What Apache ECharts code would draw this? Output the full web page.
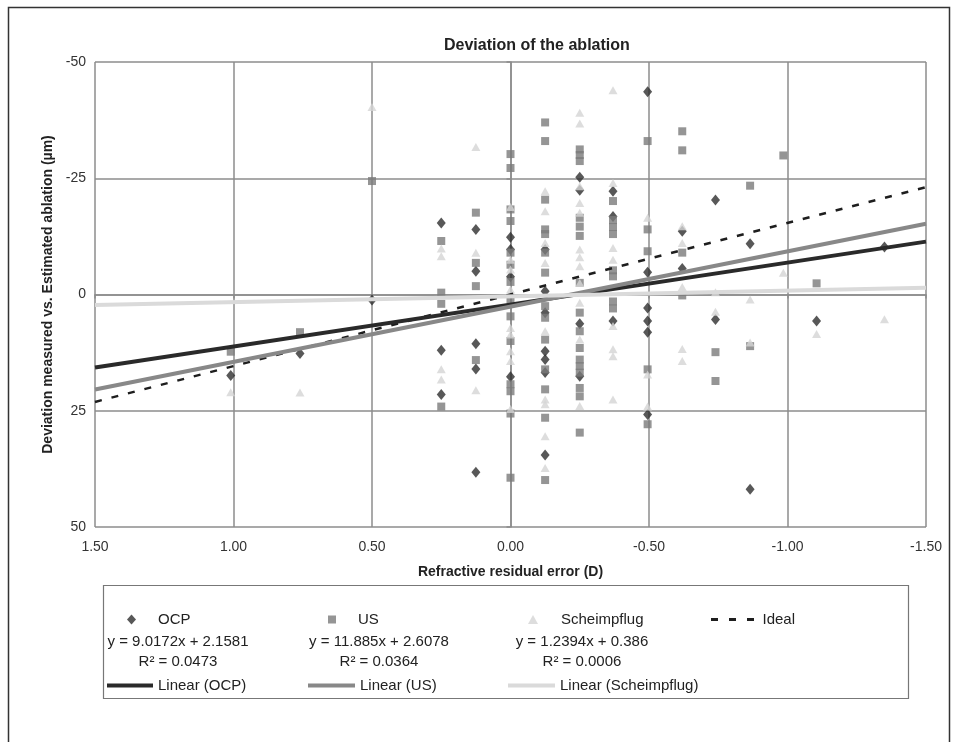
<!DOCTYPE html>
<html>
<head>
<meta charset="utf-8">
<title>Deviation of the ablation</title>
<script src="https://cdn.jsdelivr.net/npm/echarts@6/dist/echarts.min.js"></script>
<style>
  html, body { margin: 0; padding: 0; background: #fff; }
  #chart { width: 956px; height: 742px; }
</style>
</head>
<body>
<div id="chart"></div>
<script>
// refractive residual error (D) vs deviation (um)
var ocpPoints = [
    [1.01, 17.4], [0.76, 12.7], [0.5, 1.2],
    [0.25, -15.4], [0.25, 12.0], [0.25, 21.5],
    [0.125, -14.0], [0.125, -5.0], [0.125, 10.6], [0.125, 16.0], [0.125, 38.2],
    [0, -12.3], [0, -9.7], [0, -3.8], [0, 17.7],
    [-0.125, -9.7], [-0.125, -0.7], [-0.125, 3.9], [-0.125, 12.2], [-0.125, 14.0], [-0.125, 16.8], [-0.125, 34.5],
    [-0.25, -25.2], [-0.25, -22.4], [-0.25, 6.3], [-0.25, 17.6],
    [-0.37, -22.2], [-0.37, -16.8], [-0.37, 5.7],
    [-0.495, -43.6], [-0.495, -4.8], [-0.495, 2.9], [-0.495, 5.7], [-0.495, 8.1], [-0.495, 25.8],
    [-0.62, -13.6], [-0.62, -5.6],
    [-0.74, -20.3], [-0.74, 5.4],
    [-0.865, -10.9], [-0.865, 41.9],
    [-1.105, 5.7],
    [-1.35, -10.2]
];

var usPoints = [
    [1.01, 12.3], [0.76, 8.1], [0.5, -24.4],
    [0.25, -11.5], [0.25, -0.4], [0.25, 2.0], [0.25, 24.1],
    [0.125, -17.6], [0.125, -6.8], [0.125, -1.8], [0.125, 14.1],
    [0, -30.2], [0, -27.2], [0, -18.3], [0, -15.8], [0, -9.0], [0, -6.4], [0, -2.7], [0, 1.1], [0, 4.7],
    [0, 10.0], [0, 19.3], [0, 20.8], [0, 25.6], [0, 39.4],
    [-0.125, -37.0], [-0.125, -33.0], [-0.125, -20.4], [-0.125, -14.0], [-0.125, -13.0], [-0.125, -9.0],
    [-0.125, -4.7], [-0.125, 2.5], [-0.125, 5.0], [-0.125, 9.7], [-0.125, 16.1], [-0.125, 20.4], [-0.125, 26.5], [-0.125, 39.9],
    [-0.25, -31.2], [-0.25, -30.0], [-0.25, -28.7], [-0.25, -16.5], [-0.25, -14.6], [-0.25, -12.6], [-0.25, -2.5],
    [-0.25, 3.9], [-0.25, 7.9], [-0.25, 11.5], [-0.25, 14.0], [-0.25, 15.4], [-0.25, 16.8], [-0.25, 20.1], [-0.25, 21.9], [-0.25, 29.7],
    [-0.37, -20.1], [-0.37, -16.0], [-0.37, -14.5], [-0.37, -13.0], [-0.37, -5.2], [-0.37, -3.9], [-0.37, 1.5], [-0.37, 3.0],
    [-0.495, -33.0], [-0.495, -14.0], [-0.495, -9.3], [-0.495, 16.1], [-0.495, 27.9],
    [-0.62, -35.1], [-0.62, -31.0], [-0.62, -9.0], [-0.62, 0.2],
    [-0.74, 12.4], [-0.74, 18.6],
    [-0.865, -23.4], [-0.865, 11.1],
    [-0.985, -29.9],
    [-1.105, -2.4]
];

var scheimpflugPoints = [
    [1.01, 21.0], [0.76, 21.1], [0.5, -40.3],
    [0.25, -9.9], [0.25, -8.2], [0.25, 16.1], [0.25, 18.3],
    [0.125, -31.7], [0.125, -9.0], [0.125, 20.6],
    [0, -18.8], [0, -7.5], [0, -5.4], [0, -1.1], [0, 7.2], [0, 8.6], [0, 12.2], [0, 14.3], [0, 24.6],
    [-0.125, -22.2], [-0.125, -17.9], [-0.125, -11.1], [-0.125, -6.8], [-0.125, 7.9], [-0.125, 22.6],
    [-0.125, 23.6], [-0.125, 30.5], [-0.125, 37.3],
    [-0.25, -39.1], [-0.25, -36.8], [-0.25, -23.3], [-0.25, -19.7], [-0.25, -17.6], [-0.25, -9.7],
    [-0.25, -8.0], [-0.25, -6.1], [-0.25, -2.5], [-0.25, 1.8], [-0.25, 9.7], [-0.25, 24.0],
    [-0.37, -43.9], [-0.37, -24.0], [-0.37, -10.0], [-0.37, -7.5], [-0.37, 6.8], [-0.37, 11.8], [-0.37, 13.3], [-0.37, 22.6],
    [-0.495, -16.5], [-0.495, 17.2], [-0.495, 24.1],
    [-0.62, -14.7], [-0.62, -11.1], [-0.62, -1.6], [-0.62, 11.7], [-0.62, 14.3],
    [-0.74, -0.5], [-0.74, 3.7],
    [-0.865, 1.1], [-0.865, 10.3],
    [-0.985, -4.7],
    [-1.105, 8.5],
    [-1.35, 5.3]
];

// line end points at the axis limits
var idealLine = [[1.5, 23.1], [-1.5, -23.1]];
var ocpTrend = [[1.5, 15.68], [-1.5, -11.37]];
var usTrend = [[1.5, 20.44], [-1.5, -15.22]];
var scheimpflugTrend = [[1.5, 2.25], [-1.5, -1.47]];

var equationTexts = ['y = 9.0172x + 2.1581', 'y = 11.885x + 2.6078', 'y = 1.2394x + 0.386'];
var r2Texts = ['R\u00b2 = 0.0473', 'R\u00b2 = 0.0364', 'R\u00b2 = 0.0006'];

var xTicks = { min: -1.5, max: 1.5, step: 0.5 };
var yTicks = { min: -50, max: 50, step: 25 };

var FONT = '"Liberation Sans", Arial, sans-serif';
var gridColor = '#8c8c8c';

function legendItem(name, left, top, w, h, pad, icon) {
    var item = { name: name };
    if (icon) item.icon = icon;
    return {
        data: [item],
        left: left,
        top: top,
        padding: 0,
        itemWidth: w,
        itemHeight: h,
        selectedMode: false,
        itemStyle: { borderWidth: 0 },
        textStyle: { fontSize: 15, color: '#222', fontFamily: FONT, padding: [0, 0, 0, pad] }
    };
}

function eqText(text, x, y) {
    return {
        type: 'text',
        style: { text: text, x: x, y: y, textAlign: 'center', textVerticalAlign: 'middle',
                 font: '15px ' + FONT, fill: '#222' }
    };
}

var myChart = echarts.init(document.getElementById('chart'));

var option = {
    animation: false,
    backgroundColor: '#fff',
    title: {
        text: 'Deviation of the ablation',
        left: 444,
        top: 38,
        padding: 0,
        textStyle: { fontSize: 16, fontWeight: 'bold', color: '#222', fontFamily: FONT }
    },
    grid: { left: 95, right: 30, top: 62, bottom: 215 },
    xAxis: {
        type: 'value',
        inverse: true,
        min: xTicks.min,
        max: xTicks.max,
        interval: xTicks.step,
        name: 'Refractive residual error (D)',
        nameLocation: 'middle',
        nameGap: 38,
        nameTextStyle: { fontSize: 14, fontWeight: 'bold', color: '#222', fontFamily: FONT },
        axisLine: { lineStyle: { color: gridColor, width: 1.5 } },
        axisTick: { show: true, length: 4, lineStyle: { color: gridColor, width: 1.5 } },
        axisLabel: { fontSize: 14, color: '#333', fontFamily: FONT, margin: 13,
                     formatter: function (v) { return v.toFixed(2); } },
        splitLine: { show: true, lineStyle: { color: gridColor, width: 1.5 } }
    },
    yAxis: {
        type: 'value',
        inverse: true,
        min: yTicks.min,
        max: yTicks.max,
        interval: yTicks.step,
        name: 'Deviation measured vs. Estimated ablation (\u00b5m)',
        nameLocation: 'middle',
        nameGap: 40,
        nameTextStyle: { fontSize: 14, fontWeight: 'bold', color: '#222', fontFamily: FONT },
        axisLine: { show: true, lineStyle: { color: gridColor, width: 1.5 } },
        axisTick: { show: true, length: 4, lineStyle: { color: gridColor, width: 1.5 } },
        axisLabel: { fontSize: 14, color: '#333', fontFamily: FONT, margin: 9 },
        splitLine: { show: true, lineStyle: { color: gridColor, width: 1.5 } }
    },
    legend: [
        legendItem('OCP', 127, 612, 9, 10, 17),
        legendItem('US', 328, 612, 8, 8, 17),
        legendItem('Scheimpflug', 528, 612, 10, 9, 18),
        legendItem('Ideal', 711, 612, 44, 3, 3, 'path://M0,0h7v3h-7z M18,0h7v3h-7z M36,0h7v3h-7z'),
        legendItem('Linear (OCP)', 107, 678, 46, 4, 0, 'rect'),
        legendItem('Linear (US)', 308, 678, 47, 4, 0, 'rect'),
        legendItem('Linear (Scheimpflug)', 508, 678, 47, 4, 0, 'rect')
    ],
    graphic: [
        { type: 'rect', shape: { x: 8.5, y: 7.5, width: 941, height: 760 },
          style: { fill: 'none', stroke: '#333', lineWidth: 1.5 } },
        { type: 'rect', shape: { x: 103.5, y: 585.5, width: 805, height: 113 },
          style: { fill: 'none', stroke: '#777', lineWidth: 1.2 } },
        eqText(equationTexts[0], 178, 642),
        eqText(r2Texts[0], 178, 662),
        eqText(equationTexts[1], 379, 642),
        eqText(r2Texts[1], 379, 662),
        eqText(equationTexts[2], 582, 642),
        eqText(r2Texts[2], 582, 662)
    ],
    series: [{
        name: 'OCP',
        type: 'scatter',
        symbol: 'diamond',
        symbolSize: [9, 11],
        color: '#2e2e2e',
        data: ocpPoints
    }, {
        name: 'US',
        type: 'scatter',
        symbol: 'rect',
        symbolSize: 8,
        color: '#7b7b7b',
        data: usPoints
    }, {
        name: 'Scheimpflug',
        type: 'scatter',
        symbol: 'triangle',
        symbolSize: [9, 8],
        color: '#d4d4d4',
        data: scheimpflugPoints
    }, {
        name: 'Ideal',
        type: 'line',
        symbol: 'none',
        silent: true,
        color: '#1e1e1e',
        lineStyle: { color: '#1e1e1e', width: 2.5, type: [7, 10] },
        data: idealLine
    }, {
        name: 'Linear (OCP)',
        type: 'line',
        symbol: 'none',
        silent: true,
        color: '#2a2a2a',
        lineStyle: { color: '#2a2a2a', width: 4 },
        data: ocpTrend
    }, {
        name: 'Linear (US)',
        type: 'line',
        symbol: 'none',
        silent: true,
        color: '#888888',
        lineStyle: { color: '#888888', width: 4 },
        data: usTrend
    }, {
        name: 'Linear (Scheimpflug)',
        type: 'line',
        symbol: 'none',
        silent: true,
        color: '#dadada',
        lineStyle: { color: '#dadada', width: 4 },
        data: scheimpflugTrend
    }]
};

myChart.setOption(option);
</script>
</body>
</html>
